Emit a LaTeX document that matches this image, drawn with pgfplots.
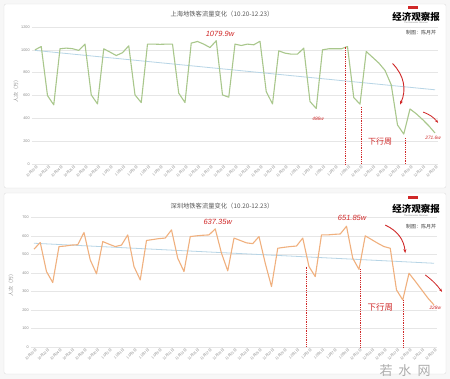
\documentclass[border=0pt]{standalone}
\usepackage{pgfplots}
\usepackage{pgfplotstable}
\pgfplotsset{compat=1.18}
\usepackage{fontspec}
\setmainfont{Liberation Sans}
\newfontfamily\cjk{Noto Sans CJK SC}
\usetikzlibrary{arrows.meta}
\definecolor{shline}{HTML}{A9C78C}
\definecolor{szline}{HTML}{F0B07E}
\definecolor{trend}{HTML}{B7D5E6}
\definecolor{anno}{HTML}{D02828}
\definecolor{gridc}{HTML}{E6E6E6}
\definecolor{tickc}{HTML}{8A8A8A}
\definecolor{titlec}{HTML}{5A5A5A}

\pgfplotstableread{
day val
0 1000
1 1029
2 599
3 518
4 1009
5 1015
6 1010
7 995
8 1050
9 605
10 526
11 1009
12 980
13 950
14 975
15 1035
16 605
17 538
18 1050
19 1050
20 1048
21 1050
22 1050
23 620
24 538
25 1059
26 1073
27 1050
28 1020
29 1079.9
30 605
31 585
32 1050
33 1038
34 1050
35 1044
36 1075
37 634
38 526
39 991
40 971
41 962
42 962
43 1015
44 547
45 486
46 1000
47 1009
48 1009
49 1009
50 1029
51 582
52 524
53 985
54 935
55 885
56 820
57 693
58 342
59 262
60 482
61 440
62 390
63 335
64 271.6
}\shdata

\pgfplotstableread{
day val
0 528
1 564
2 407
3 348
4 542
5 545
6 550
7 552
8 618
9 470
10 395
11 569
12 555
13 542
14 550
15 605
16 434
17 362
18 575
19 580
20 585
21 588
22 632
23 479
24 407
25 596
26 600
27 603
28 605
29 637.35
30 506
31 411
32 588
33 575
34 562
35 558
36 596
37 452
38 326
39 533
40 538
41 542
42 545
43 588
44 434
45 380
46 605
47 605
48 608
49 610
50 651.85
51 479
52 419
53 600
54 580
55 560
56 542
57 533
58 308
59 254
60 398
61 355
62 310
63 265
64 227
}\szdata

\pgfplotsset{
  mystyle/.style={
    scale only axis,
    xmin=-0.5, xmax=64.5,
    axis line style={draw=none},
    major tick length=0pt,
    ymajorgrids, grid style={gridc, line width=0.5pt},
    xtick={0,2,...,64},
    xticklabels={10月20日,10月22日,10月24日,10月26日,10月28日,10月30日,11月1日,11月3日,11月5日,11月7日,11月9日,11月11日,11月13日,11月15日,11月17日,11月19日,11月21日,11月23日,11月25日,11月27日,11月29日,12月1日,12月3日,12月5日,12月7日,12月9日,12月11日,12月13日,12月15日,12月17日,12月19日,12月21日,12月23日},
    xticklabel style={rotate=45, anchor=north east, font=\cjk\fontsize{3.5}{3.7}\selectfont, text=tickc, inner sep=0pt, yshift=-1.5pt},
    yticklabel style={font=\fontsize{3.8}{4}\selectfont, text=tickc, inner sep=2pt},
    /pgf/number format/assume math mode=true,
    /pgf/number format/1000 sep={},
    scaled y ticks=false,
    clip=false,
  },
}
\tikzset{annot/.style={text=anno, font=\itshape\fontsize{#1}{#1}\selectfont, inner sep=0pt}}

\begin{document}
\begin{tikzpicture}[x=1pt,y=1pt]
\path[use as bounding box, fill=gray!6] (0,0) rectangle (450,379);
% panels
\draw[gray!25, fill=white, rounded corners=2pt] (4,191) rectangle (446,375);
\draw[gray!25, fill=white, rounded corners=2pt] (4,5) rectangle (446,186);

% ---------- top chart: Shanghai ----------
\node[font=\cjk\fontsize{6.3}{7}\selectfont, text=titlec] at (222,365) {上海地铁客流量变化（10.20-12.23）};
\fill[anno] (408,369.5) rectangle (418,372.5);
\node[font=\cjk\bfseries\fontsize{9.5}{10}\selectfont] at (416,362.5) {经济观察报};
\node[font=\fontsize{2.2}{2.5}\selectfont, text=gray] at (416,356) {The Economic Observer};
\node[font=\cjk\fontsize{5}{6}\selectfont, text=black!75] at (421,346) {制图：陈月芹};
\node[font=\cjk\fontsize{5}{6}\selectfont, text=tickc, rotate=90] at (16,289) {人次（万）};

\begin{axis}[mystyle, at={(31.875pt,215pt)}, anchor=south west,
  width=406.25pt, height=137pt, ymin=0, ymax=1200, ytick={0,200,...,1200}]
\addplot[trend, line width=0.8pt] coordinates {(0,995) (64,650)};
\addplot[shline, line width=1.1pt, line join=round] table[x=day,y=val]{\shdata};
\draw[anno, densely dotted, line width=0.8pt] (axis cs:49.6,1029) -- (axis cs:49.6,0);
\draw[anno, densely dotted, line width=0.8pt] (axis cs:52.2,500) -- (axis cs:52.2,0);
\draw[anno, densely dotted, line width=0.8pt] (axis cs:59.3,228) -- (axis cs:59.3,0);
\node[annot=7.5] at (axis cs:29.6,1139) {1079.9w};
\node[annot=4.8] at (axis cs:45.3,394) {486w};
\node[text=anno, font=\cjk\fontsize{8}{8}\selectfont, inner sep=0pt] at (axis cs:55.2,193) {下行周};
\node[annot=4.8] at (axis cs:63.7,228) {271.6w};
\draw[anno, line width=0.9pt, -{Stealth[length=4pt]}] (axis cs:57.2,880) to[bend left=35] (axis cs:58.4,520);
\draw[anno, line width=0.8pt, -{Stealth[length=3.5pt]}] (axis cs:62.1,455) to[bend left=15] (axis cs:64.5,360);
\end{axis}

% ---------- bottom chart: Shenzhen ----------
\node[font=\cjk\fontsize{6.3}{7}\selectfont, text=titlec] at (222,173) {深圳地铁客流量变化（10.20-12.23）};
\fill[anno] (408,179.5) rectangle (418,182.5);
\node[font=\cjk\bfseries\fontsize{9.5}{10}\selectfont] at (416,170) {经济观察报};
\node[font=\fontsize{2.2}{2.5}\selectfont, text=gray] at (416,163.5) {The Economic Observer};
\node[font=\cjk\fontsize{5}{6}\selectfont, text=black!75] at (421,152) {制图：陈月芹};
\node[font=\cjk\fontsize{5}{6}\selectfont, text=tickc, rotate=90] at (11,95) {人次（万）};

\begin{axis}[mystyle, at={(30.875pt,32pt)}, anchor=south west,
  width=406.25pt, height=129.7pt, ymin=0, ymax=700, ytick={0,100,...,700}]
\addplot[trend, line width=0.8pt] coordinates {(0,560) (64,452)};
\addplot[szline, line width=1.1pt, line join=round] table[x=day,y=val]{\szdata};
\draw[anno, densely dotted, line width=0.8pt] (axis cs:43.6,434) -- (axis cs:43.6,0);
\draw[anno, densely dotted, line width=0.8pt] (axis cs:52.2,419) -- (axis cs:52.2,0);
\draw[anno, densely dotted, line width=0.8pt] (axis cs:59.1,254) -- (axis cs:59.1,0);
\node[annot=7.5] at (axis cs:29.4,675) {637.35w};
\node[annot=7.5] at (axis cs:50.9,696) {651.85w};
\node[text=anno, font=\cjk\fontsize{8.5}{8.5}\selectfont, inner sep=0pt] at (axis cs:55.4,216) {下行周};
\node[annot=4.8] at (axis cs:64.2,210) {228w};
\draw[anno, line width=0.9pt, -{Stealth[length=4pt]}] (axis cs:56.2,658) to[bend left=30] (axis cs:59.4,507);
\draw[anno, line width=0.8pt, -{Stealth[length=3.5pt]}] (axis cs:62.6,389) to[bend left=8] (axis cs:65.3,297);
\end{axis}

% watermark
\node[font=\cjk\fontsize{13}{14}\selectfont, text=gray!65, inner sep=0pt] at (405,8) {若\hspace{6pt}水\hspace{6pt}网};
\end{tikzpicture}
\end{document}
